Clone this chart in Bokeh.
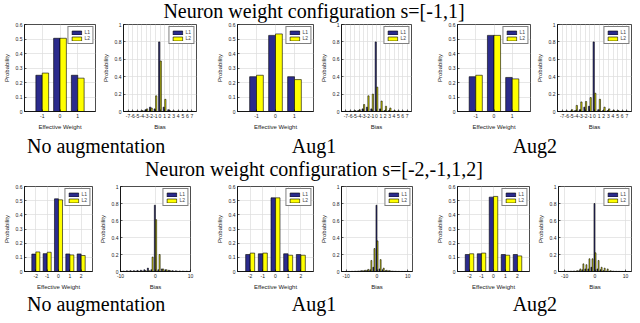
import numpy as np
from bokeh.plotting import figure
from bokeh.models import ColumnDataSource, Range1d, PrintfTickFormatter, Div
from bokeh.layouts import row, column
from bokeh.transform import dodge
from bokeh.embed import file_html
from bokeh.resources import INLINE

# ---------------- data ----------------
weights_s1 = [-1, 0, 1]
weights_s2 = [-2, -1, 0, 1, 2]
bias_r1 = list(range(-7, 8))
bias_r2 = list(range(-10, 11))

title_1 = "Neuron weight configuration s=[-1,1]"
title_2 = "Neuron weight configuration s=[-2,-1,1,2]"
captions = ["No augmentation", "Aug1", "Aug2"]

w1_noaug_L1 = [0.25, 0.505, 0.25]
w1_noaug_L2 = [0.265, 0.505, 0.23]
w1_aug1_L1 = [0.24, 0.525, 0.24]
w1_aug1_L2 = [0.25, 0.535, 0.22]
w1_aug2_L1 = [0.24, 0.525, 0.235]
w1_aug2_L2 = [0.25, 0.525, 0.225]

w2_noaug_L1 = [0.123, 0.126, 0.513, 0.124, 0.124]
w2_noaug_L2 = [0.138, 0.136, 0.506, 0.117, 0.113]
w2_aug1_L1 = [0.12, 0.125, 0.52, 0.125, 0.12]
w2_aug1_L2 = [0.13, 0.13, 0.52, 0.115, 0.115]
w2_aug2_L1 = [0.12, 0.125, 0.525, 0.12, 0.12]
w2_aug2_L2 = [0.125, 0.13, 0.53, 0.115, 0.11]

b1_noaug_L1 = [0.002, 0.002, 0.002, 0.005, 0.02, 0.05, 0.03, 0.80, 0.05, 0.02, 0.005, 0.003, 0.002, 0.002, 0.002]
b1_noaug_L2 = [0.002, 0.002, 0.003, 0.01, 0.03, 0.04, 0.18, 0.58, 0.14, 0.01, 0.005, 0.003, 0.002, 0.002, 0.002]
b1_aug1_L1 = [0.002, 0.003, 0.005, 0.01, 0.03, 0.05, 0.03, 0.80, 0.03, 0.01, 0.01, 0.005, 0.003, 0.002, 0.002]
b1_aug1_L2 = [0.002, 0.003, 0.01, 0.02, 0.08, 0.18, 0.20, 0.28, 0.12, 0.06, 0.04, 0.01, 0.005, 0.003, 0.002]
b1_aug2_L1 = [0.002, 0.003, 0.005, 0.01, 0.02, 0.05, 0.06, 0.80, 0.02, 0.01, 0.01, 0.005, 0.003, 0.002, 0.002]
b1_aug2_L2 = [0.003, 0.005, 0.02, 0.07, 0.11, 0.115, 0.16, 0.21, 0.14, 0.05, 0.03, 0.015, 0.01, 0.005, 0.003]

b2_noaug_L1 = [0.005, 0.005, 0.008, 0.01, 0.01, 0.012, 0.015, 0.02, 0.04, 0.02, 0.78, 0.02, 0.03, 0.02, 0.015, 0.01, 0.008, 0.006, 0.005, 0.004, 0.003]
b2_noaug_L2 = [0.002, 0.002, 0.003, 0.003, 0.004, 0.005, 0.007, 0.01, 0.01, 0.17, 0.61, 0.20, 0.03, 0.02, 0.01, 0.005, 0.004, 0.003, 0.002, 0.002, 0.001]
b2_aug1_L1 = [0.001, 0.001, 0.002, 0.003, 0.005, 0.008, 0.01, 0.015, 0.02, 0.05, 0.78, 0.03, 0.02, 0.01, 0.008, 0.005, 0.003, 0.002, 0.001, 0.001, 0.001]
b2_aug1_L2 = [0.001, 0.001, 0.002, 0.004, 0.006, 0.01, 0.015, 0.025, 0.13, 0.27, 0.36, 0.14, 0.04, 0.015, 0.01, 0.005, 0.003, 0.002, 0.001, 0.001, 0.001]
b2_aug2_L1 = [0.002, 0.002, 0.003, 0.004, 0.005, 0.01, 0.02, 0.03, 0.03, 0.05, 0.80, 0.03, 0.02, 0.01, 0.005, 0.003, 0.003, 0.002, 0.002, 0.001, 0.001]
b2_aug2_L2 = [0.001, 0.002, 0.004, 0.006, 0.01, 0.03, 0.09, 0.08, 0.15, 0.15, 0.22, 0.13, 0.05, 0.04, 0.03, 0.01, 0.005, 0.003, 0.002, 0.001, 0.001]

NAVY = "#2b2b8c"
YELLOW = "#ffff00"
W_TOTAL, H_TOTAL = 632, 315

SX = W_TOTAL / 638.0
SY = H_TOTAL / 319.0

ASC, DESC = 0.891, 0.216   # Liberation Serif metrics


def X(x):
    return (x - 1) * SX


def Yp(y):
    return (y - 2) * SY


def style_axes(p, xlabel):
    p.xaxis.axis_label = xlabel
    p.yaxis.axis_label = "Probability"
    for ax in (p.xaxis[0], p.yaxis[0]):
        ax.major_tick_in = 2
        ax.major_tick_out = 0
        ax.minor_tick_line_color = None
        ax.axis_line_color = "black"
        ax.axis_line_width = 0.7
        ax.major_tick_line_width = 0.6
        ax.major_label_text_font = "Liberation Sans"
        ax.major_label_text_font_size = "5px"
        ax.major_label_text_color = "#222222"
        ax.axis_label_text_font = "Liberation Sans"
        ax.axis_label_text_font_size = "6px"
        ax.axis_label_text_font_style = "normal"
        ax.axis_label_text_color = "#222222"
        ax.major_label_standoff = 2
        ax.axis_label_standoff = 3
        ax.formatter = PrintfTickFormatter(format="%g")
    p.xgrid.grid_line_color = "#dcdcdc"
    p.ygrid.grid_line_color = "#dcdcdc"
    p.xgrid.grid_line_width = 0.7
    p.ygrid.grid_line_width = 0.7
    p.outline_line_color = "black"
    p.outline_line_width = 0.7


def make_panel(kind, xs, l1, l2, xr, xticks, yr, yticks, width, bl, br, height, bt, bb, bw, off):
    p = figure(width=width, height=height, x_range=Range1d(*xr), y_range=Range1d(*yr),
               output_backend="svg", toolbar_location=None,
               min_border_left=bl, min_border_right=br, min_border_top=bt, min_border_bottom=bb)
    src = ColumnDataSource(dict(x=xs, l1=l1, l2=l2))
    lw = 0.6
    p.vbar(x=dodge("x", -off, range=p.x_range), top="l1", width=bw, source=src,
           fill_color=NAVY, line_color="black", line_width=lw, legend_label="L1")
    p.vbar(x=dodge("x", off, range=p.x_range), top="l2", width=bw, source=src,
           fill_color=YELLOW, line_color="black", line_width=lw, legend_label="L2")
    p.xaxis.ticker = xticks
    p.yaxis.ticker = yticks
    style_axes(p, "Effective Weight" if kind == "w" else "Bias")
    lg = p.legend[0]
    lg.location = "top_right"
    lg.margin = 2
    lg.padding = 2
    lg.spacing = 0
    lg.glyph_width = 12
    lg.glyph_height = 5
    lg.label_height = 5
    lg.label_width = 5
    lg.label_standoff = 2
    lg.label_text_font = "Liberation Sans"
    lg.label_text_font_size = "5px"
    lg.border_line_color = "black"
    lg.border_line_width = 0.6
    lg.background_fill_alpha = 1.0
    return p


def make_row(specs, bounds, top_ref, ftop_ref, fbot_ref, bot_ref):
    top = round(Yp(top_ref))
    ft = round(Yp(ftop_ref))
    fb = round(Yp(fbot_ref))
    bot = round(Yp(bot_ref))
    height = bot - top
    figs = []
    pb = [round(X(b)) for b in bounds]
    pb[0] = 0
    pb[-1] = W_TOTAL
    for i, s in enumerate(specs):
        kind, fl, fr, xs, l1, l2, xr, xticks, yr, yticks, bw, off = s
        pl, pr = round(X(fl)), round(X(fr))
        width = pb[i + 1] - pb[i]
        figs.append(make_panel(kind, xs, l1, l2, xr, xticks, yr, yticks, width,
                               pl - pb[i], pb[i + 1] - pr, height, ft - top, bot - fb, bw, off))
    return row(*figs, spacing=0)


def text_div(items, top_ref, bot_ref, size):
    top = round(Yp(top_ref))
    bot = round(Yp(bot_ref))
    h = bot - top
    lh = int(size * 0.8)
    half = (lh - (ASC + DESC) * size) / 2.0    # negative half-leading
    inner = ""
    for txt, cx_ref, base_ref in items:
        cx = X(cx_ref)
        base = Yp(base_ref) - top
        t = base - (half + ASC * size)
        # keep the whole glyph box inside the band
        t = max(t, -half)
        t = min(t, h - lh + half)
        inner += ('<div style="position:absolute;left:%.1fpx;top:%.1fpx;width:400px;text-align:center;'
                  'font-family:\'Liberation Serif\';font-size:%dpx;line-height:%dpx;white-space:nowrap;color:#000">%s</div>'
                  % (cx - 200, t, size, lh, txt))
    html = '<div style="position:relative;width:%dpx;height:%dpx">%s</div>' % (W_TOTAL, h, inner)
    return Div(text=html, width=W_TOTAL, height=h, margin=0)


yw = list(np.round(np.arange(0, 0.61, 0.1), 2))
yb = list(np.round(np.arange(0, 1.01, 0.2), 2))

row1_specs = [
    ("w", 19, 97, weights_s1, w1_noaug_L1, w1_noaug_L2, (-2, 2), weights_s1, (0, 0.6), yw, 0.36, 0.18),
    ("b", 120, 199, bias_r1, b1_noaug_L1, b1_noaug_L2, (-8, 8), bias_r1, (0, 1), yb, 0.27, 0.17),
    ("w", 240, 317, weights_s1, w1_aug1_L1, w1_aug1_L2, (-2, 2), weights_s1, (0, 0.6), yw, 0.36, 0.18),
    ("b", 336, 416, bias_r1, b1_aug1_L1, b1_aug1_L2, (-8, 8), bias_r1, (0, 1), yb, 0.27, 0.17),
    ("w", 462, 536, weights_s1, w1_aug2_L1, w1_aug2_L2, (-2, 2), weights_s1, (0, 0.6), yw, 0.36, 0.18),
    ("b", 563, 638, bias_r1, b1_aug2_L1, b1_aug2_L2, (-8, 8), bias_r1, (0, 1), yb, 0.27, 0.17),
]
row1_bounds = [1, 101, 204, 321, 420, 539, 639]

row2_specs = [
    ("w", 19, 94, weights_s2, w2_noaug_L1, w2_noaug_L2, (-3, 3), weights_s2, (0, 0.6), yw, 0.35, 0.18),
    ("b", 118, 193, bias_r2, b2_noaug_L1, b2_noaug_L2, (-10, 10), [-10, 0, 10], (0, 1), yb, 0.3, 0.18),
    ("w", 240, 317, weights_s2, w2_aug1_L1, w2_aug1_L2, (-3, 3), weights_s2, (0, 0.6), yw, 0.35, 0.18),
    ("b", 342, 417, bias_r2, b2_aug1_L1, b2_aug1_L2, (-11.5, 11.5), [-10, 0, 10], (0, 1), yb, 0.3, 0.18),
    ("w", 462, 535, weights_s2, w2_aug2_L1, w2_aug2_L2, (-3, 3), weights_s2, (0, 0.6), yw, 0.35, 0.18),
    ("b", 564, 638, bias_r2, b2_aug2_L1, b2_aug2_L2, (-12, 12), [-10, 0, 10], (0, 1), yb, 0.3, 0.18),
]
row2_bounds = [1, 98, 197, 321, 421, 539, 639]

t1 = text_div([(title_1, 318, 17.5)], 2, 24, 20)
r1 = make_row(row1_specs, row1_bounds, 24, 26, 114, 137)
c1 = text_div([(captions[0], 98, 157), (captions[1], 318, 157), (captions[2], 541, 157)], 137, 162, 20)
t2 = text_div([(title_2, 318, 180)], 162, 185, 20)
r2 = make_row(row2_specs, row2_bounds, 185, 190, 277, 298)
c2 = text_div([(captions[0], 98, 317), (captions[1], 318, 317), (captions[2], 541, 317)], 298, 321, 20)

layout = column(t1, r1, c1, t2, r2, c2, spacing=0)

open("out.html", "w").write(file_html(layout, INLINE))
